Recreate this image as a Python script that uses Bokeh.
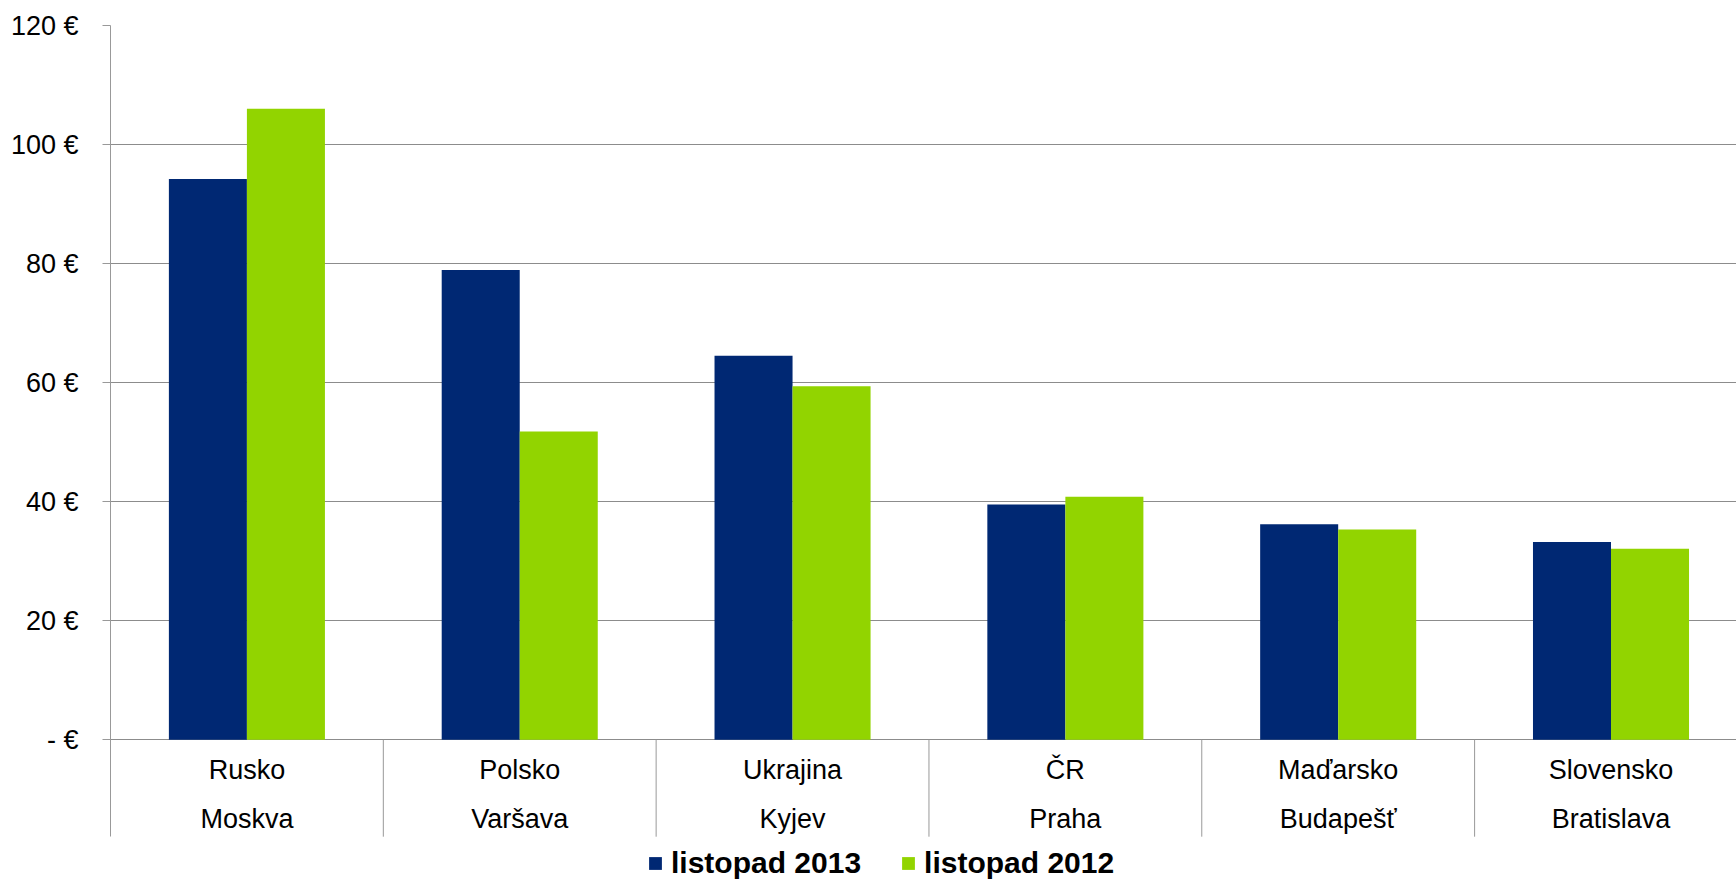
from bokeh.plotting import figure
from bokeh.models import Range1d, FixedTicker, Legend, LegendItem, ColumnDataSource
from bokeh.core.properties import value
from bokeh.embed import file_html
from bokeh.resources import INLINE

countries = ["Rusko", "Polsko", "Ukrajina", "ČR", "Maďarsko", "Slovensko"]
cities = ["Moskva", "Varšava", "Kyjev", "Praha", "Budapešť", "Bratislava"]
v2013 = [94.2, 78.9, 64.5, 39.5, 36.2, 33.2]
v2012 = [106.0, 51.8, 59.4, 40.8, 35.3, 32.1]
y_ticks = [0, 20, 40, 60, 80, 100, 120]
y_tick_labels = ["- €", "20 €", "40 €", "60 €", "80 €", "100 €", "120 €"]
series_names = ["listopad 2013", "listopad 2012"]

NAVY = "#002873"
GREEN = "#92d400"
FONT = "Liberation Sans"

n = len(countries)
centers = [i + 0.5 for i in range(n)]
bar_w = 0.286
y_bottom = -24.5
sep_bottom = -16.3

p = figure(width=1736, height=885, output_backend="svg", toolbar_location=None,
           x_range=Range1d(0, 5.96), y_range=Range1d(y_bottom, 120),
           x_axis_location=None, min_border_left=110, min_border_right=0,
           min_border_top=25, min_border_bottom=0)
p.outline_line_color = None
p.xgrid.visible = False

yax = p.yaxis[0]
yax.ticker = FixedTicker(ticks=y_ticks)
yax.bounds = (sep_bottom, 120)
yax.major_label_overrides = {t: l for t, l in zip(y_ticks, y_tick_labels)}
yax.major_label_text_font = FONT
yax.major_label_text_font_size = "27px"
yax.major_label_text_color = "black"
yax.major_tick_out = 8
yax.major_tick_in = 0
yax.minor_tick_out = 0
yax.minor_tick_in = 0
yax.major_label_standoff = 24
yax.axis_line_color = "#999999"
yax.major_tick_line_color = "#999999"

p.ygrid.ticker = FixedTicker(ticks=y_ticks)
p.ygrid.grid_line_color = "#8c8c8c"
p.ygrid.grid_line_width = 1

src = ColumnDataSource(dict(
    x13=[c - bar_w / 2 for c in centers],
    x12=[c + bar_w / 2 for c in centers],
    v13=v2013, v12=v2012,
))
r13 = p.vbar(x="x13", top="v13", bottom=0, width=bar_w, source=src,
             fill_color=NAVY, line_color=None)
r12 = p.vbar(x="x12", top="v12", bottom=0, width=bar_w, source=src,
             fill_color=GREEN, line_color=None)

# category separators below the zero line
sep_x = [i for i in range(1, n + 1)]
p.segment(x0=sep_x, x1=sep_x, y0=[0] * n, y1=[sep_bottom] * n,
          line_color="#999999", line_width=1)

lab = ColumnDataSource(dict(x=centers, y=[0] * n, c=countries, m=cities))
p.text(x="x", y="y", text="c", source=lab, y_offset=30,
       text_align="center", text_baseline="middle",
       text_font=value(FONT), text_font_size="27px", text_color="black")
p.text(x="x", y="y", text="m", source=lab, y_offset=79,
       text_align="center", text_baseline="middle",
       text_font=value(FONT), text_font_size="27px", text_color="black")

legend = Legend(items=[LegendItem(label=series_names[0], renderers=[r13]),
                       LegendItem(label=series_names[1], renderers=[r12])],
                orientation="horizontal", location=(537, 5))
legend.label_text_font = FONT
legend.label_text_font_size = "30px"
legend.label_text_font_style = "bold"
legend.label_text_color = "black"
legend.glyph_width = 16
legend.glyph_height = 16
legend.label_standoff = 8
legend.spacing = 39
legend.padding = 0
legend.margin = 0
legend.border_line_color = None
legend.background_fill_alpha = 0
p.add_layout(legend, "center")

open("out.html", "w").write(file_html(p, INLINE))
